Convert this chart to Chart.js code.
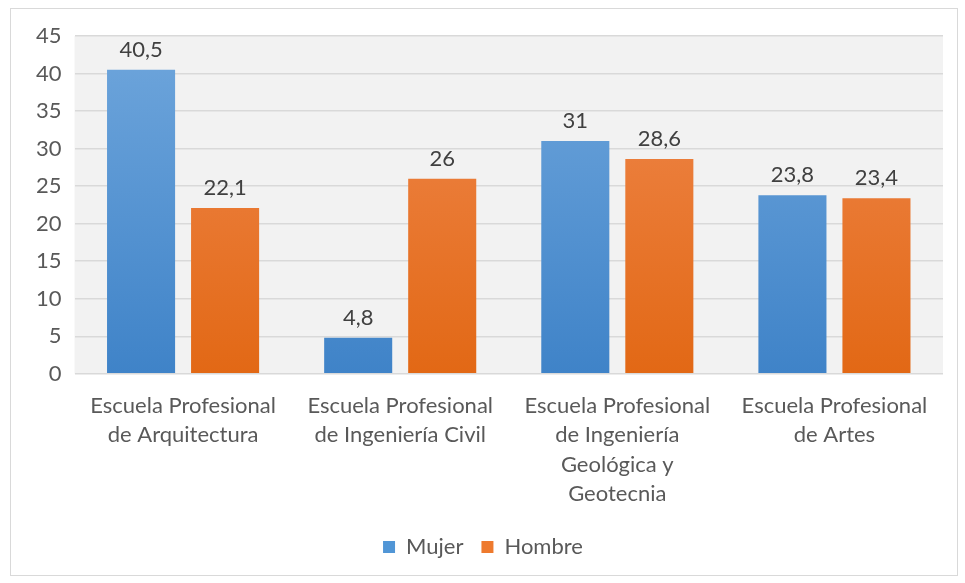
<!DOCTYPE html>
<html>
<head>
<meta charset="utf-8">
<script src="https://cdn.jsdelivr.net/npm/chart.js@4.4.1/dist/chart.umd.min.js"></script>
<style>
    body { margin: 0; background: #fff; }
    #box { position: absolute; left: 10px; top: 8px; width: 946px; height: 566px; border: 1px solid #D9D9D9; }
    canvas { display: block; }
</style>
</head>
<body>
<div id="box"><canvas id="chart"></canvas></div>
<script>
var categories = [
    ["Escuela Profesional", "de Arquitectura"],
    ["Escuela Profesional", "de Ingeniería Civil"],
    ["Escuela Profesional", "de Ingeniería", "Geológica y", "Geotecnia"],
    ["Escuela Profesional", "de Artes"]
];
var mujer = [40.5, 4.8, 31, 23.8];
var hombre = [22.1, 26, 28.6, 23.4];
var yTicks = [0, 5, 10, 15, 20, 25, 30, 35, 40, 45];

var FONT = "Lato, sans-serif";

function gradient(ctx, top, bottom) {
    var area = ctx.chart.chartArea;
    if (!area) return bottom;
    var g = ctx.chart.ctx.createLinearGradient(0, area.top, 0, area.bottom);
    g.addColorStop(0, top);
    g.addColorStop(1, bottom);
    return g;
}

var plotBackground = {
    id: 'plotBackground',
    beforeDraw: function (chart) {
        var a = chart.chartArea;
        chart.ctx.save();
        chart.ctx.fillStyle = "#F2F2F2";
        chart.ctx.fillRect(a.left, a.top, a.right - a.left, a.bottom - a.top);
        chart.ctx.restore();
    }
};

var valueLabels = {
    id: 'valueLabels',
    afterDatasetsDraw: function (chart) {
        var ctx = chart.ctx;
        ctx.save();
        ctx.font = "22px " + FONT;
        ctx.fillStyle = "#404040";
        ctx.textAlign = "center";
        ctx.textBaseline = "bottom";
        chart.data.datasets.forEach(function (ds, i) {
            chart.getDatasetMeta(i).data.forEach(function (bar, j) {
                ctx.fillText(String(ds.data[j]).replace(".", ","), bar.x, bar.y - 9);
            });
        });
        ctx.restore();
    }
};

new Chart(document.getElementById('chart'), {
    type: 'bar',
    data: {
        labels: categories,
        datasets: [
            {
                label: "Mujer",
                data: mujer,
                backgroundColor: function (ctx) { return gradient(ctx, "#6FA6DC", "#3F83C8"); },
                borderWidth: 0
            },
            {
                label: "Hombre",
                data: hombre,
                backgroundColor: function (ctx) { return gradient(ctx, "#F0894F", "#E26815"); },
                borderWidth: 0
            }
        ]
    },
    options: {
        responsive: true,
        maintainAspectRatio: false,
        animation: false,
        categoryPercentage: 0.774,
        barPercentage: 0.81,
        layout: { padding: { left: 12, right: 14, top: 27, bottom: 7 } },
        plugins: {
            tooltip: { enabled: false },
            legend: {
                position: 'bottom',
                labels: {
                    color: "#595959",
                    font: { family: FONT, size: 22 },
                    boxWidth: 12,
                    boxHeight: 12,
                    padding: 18,
                    generateLabels: function (chart) {
                        var cols = ["#5196D6", "#EE7A2E"];
                        return chart.data.datasets.map(function (ds, i) {
                            return { text: ds.label, fillStyle: cols[i], strokeStyle: cols[i], lineWidth: 0, datasetIndex: i, fontColor: "#595959" };
                        });
                    }
                }
            }
        },
        scales: {
            x: {
                grid: { display: false },
                border: { display: false },
                ticks: {
                    color: "#595959",
                    font: { family: FONT, size: 22, lineHeight: 1.32 },
                    maxRotation: 0,
                    autoSkip: false,
                    padding: 10
                }
            },
            y: {
                min: 0,
                max: 45,
                afterBuildTicks: function (axis) {
                    axis.ticks = yTicks.map(function (v) { return { value: v }; });
                },
                grid: { color: "#D9D9D9", lineWidth: 1.5, drawTicks: false },
                border: { display: false },
                ticks: {
                    color: "#595959",
                    font: { family: FONT, size: 22 },
                    padding: 13
                }
            }
        }
    },
    plugins: [plotBackground, valueLabels]
});
</script>
</body>
</html>
